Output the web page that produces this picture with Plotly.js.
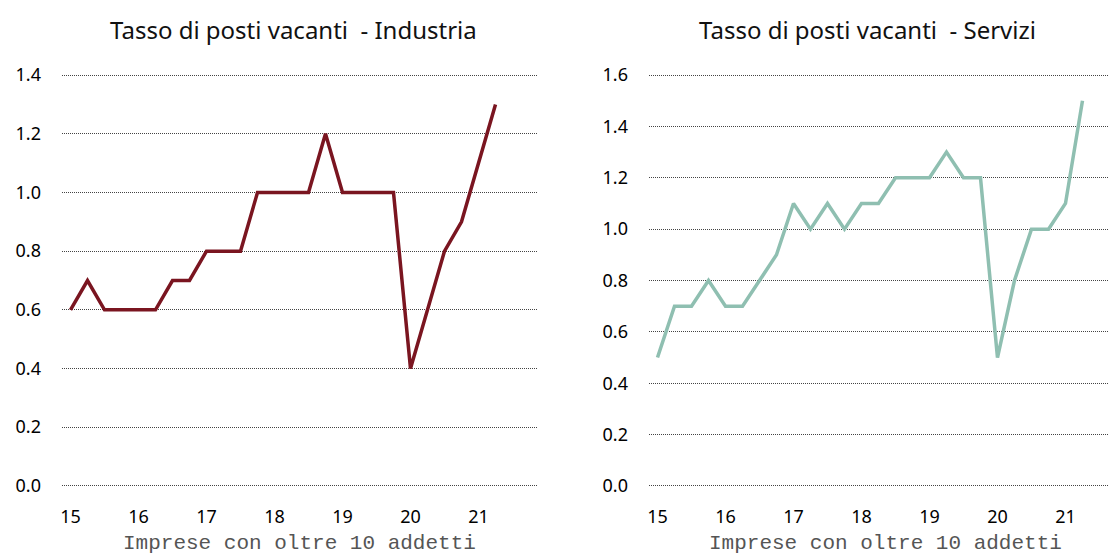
<!DOCTYPE html>
<html>
<head>
<meta charset="utf-8">
<script src="https://cdn.plot.ly/plotly-3.0.1.min.js"></script>
<style>
html,body{margin:0;padding:0;background:#fff;}
#chart{width:1109px;height:557px;}
</style>
</head>
<body>
<div id="chart"></div>
<script>
// Quarters 2015 T1 .. 2021 T2
const quarters = [
  "2015 T1","2015 T2","2015 T3","2015 T4",
  "2016 T1","2016 T2","2016 T3","2016 T4",
  "2017 T1","2017 T2","2017 T3","2017 T4",
  "2018 T1","2018 T2","2018 T3","2018 T4",
  "2019 T1","2019 T2","2019 T3","2019 T4",
  "2020 T1","2020 T2","2020 T3","2020 T4",
  "2021 T1","2021 T2"
];
const industria = [0.6,0.7,0.6,0.6, 0.6,0.6,0.7,0.7, 0.8,0.8,0.8,1.0, 1.0,1.0,1.0,1.2, 1.0,1.0,1.0,1.0, 0.4,0.6,0.8,0.9, 1.1,1.3];
const servizi   = [0.5,0.7,0.7,0.8, 0.7,0.7,0.8,0.9, 1.1,1.0,1.1,1.0, 1.1,1.1,1.2,1.2, 1.2,1.3,1.2,1.2, 0.5,0.8,1.0,1.0, 1.1,1.5];
const tickQuarters = ["2015 T1","2016 T1","2017 T1","2018 T1","2019 T1","2020 T1","2021 T1"];
const tickLabels = ["15","16","17","18","19","20","21"];
const titleLeft = "Tasso di posti vacanti  - Industria";
const titleRight = "Tasso di posti vacanti  - Servizi";
const xTitle = "Imprese con oltre 10 addetti";

const W = 1109, H = 557;
const px = v => v / W;
const py = v => (H - v) / H;

const sansFont = {family: "Noto Sans, sans-serif", size: 18, color: "#000"};
const gridCommon = {
  showgrid: true, gridcolor: "#444", gridwidth: 1, griddash: "1px,1px",
  zeroline: false, showline: false, ticks: "",
  tickformat: ".1f", dtick: 0.2, tick0: 0,
  tickfont: sansFont, ticklabelstandoff: 20, fixedrange: true
};
const xCommon = {
  type: "category", showgrid: false, zeroline: false, showline: false, ticks: "",
  tickmode: "array", tickvals: tickQuarters, ticktext: tickLabels,
  tickfont: sansFont, ticklabelstandoff: 17, tickangle: 0, fixedrange: true
};

const traces = [
  {x: quarters, y: industria, type: "scatter", mode: "lines", xaxis: "x", yaxis: "y",
   line: {color: "#7a1520", width: 3.5}, hoverinfo: "skip"},
  {x: quarters, y: servizi, type: "scatter", mode: "lines", xaxis: "x2", yaxis: "y2",
   line: {color: "#8fbfb1", width: 3.5}, hoverinfo: "skip"}
];

const layout = {
  width: W, height: H,
  margin: {l: 0, r: 0, t: 0, b: 0},
  paper_bgcolor: "#fff", plot_bgcolor: "rgba(0,0,0,0)",
  showlegend: false,
  xaxis: Object.assign({}, xCommon, {domain: [px(62), px(538)], range: [-0.5, 27.5], anchor: "y"}),
  yaxis: Object.assign({}, gridCommon, {domain: [py(487), py(74)], range: [-0.004, 1.404], anchor: "x"}),
  xaxis2: Object.assign({}, xCommon, {domain: [px(649), 1], range: [-0.5, 26.56], anchor: "y2"}),
  yaxis2: Object.assign({}, gridCommon, {domain: [py(487), py(74)], range: [-0.004, 1.604], anchor: "x2"}),
  annotations: [
    {text: titleLeft, xref: "paper", yref: "paper", x: px(293), y: py(30), xanchor: "center", yanchor: "middle",
     showarrow: false, font: {family: "Noto Sans, sans-serif", size: 24, color: "#111"}},
    {text: titleRight, xref: "paper", yref: "paper", x: px(867), y: py(30), xanchor: "center", yanchor: "middle",
     showarrow: false, font: {family: "Noto Sans, sans-serif", size: 24, color: "#111"}},
    {text: xTitle, xref: "paper", yref: "paper", x: px(299), y: py(543), xanchor: "center", yanchor: "middle",
     showarrow: false, font: {family: "Liberation Mono, monospace", size: 21, color: "#555"}},
    {text: xTitle, xref: "paper", yref: "paper", x: px(885), y: py(543), xanchor: "center", yanchor: "middle",
     showarrow: false, font: {family: "Liberation Mono, monospace", size: 21, color: "#555"}}
  ]
};

Plotly.newPlot("chart", traces, layout, {displayModeBar: false, staticPlot: true});
</script>
</body>
</html>
